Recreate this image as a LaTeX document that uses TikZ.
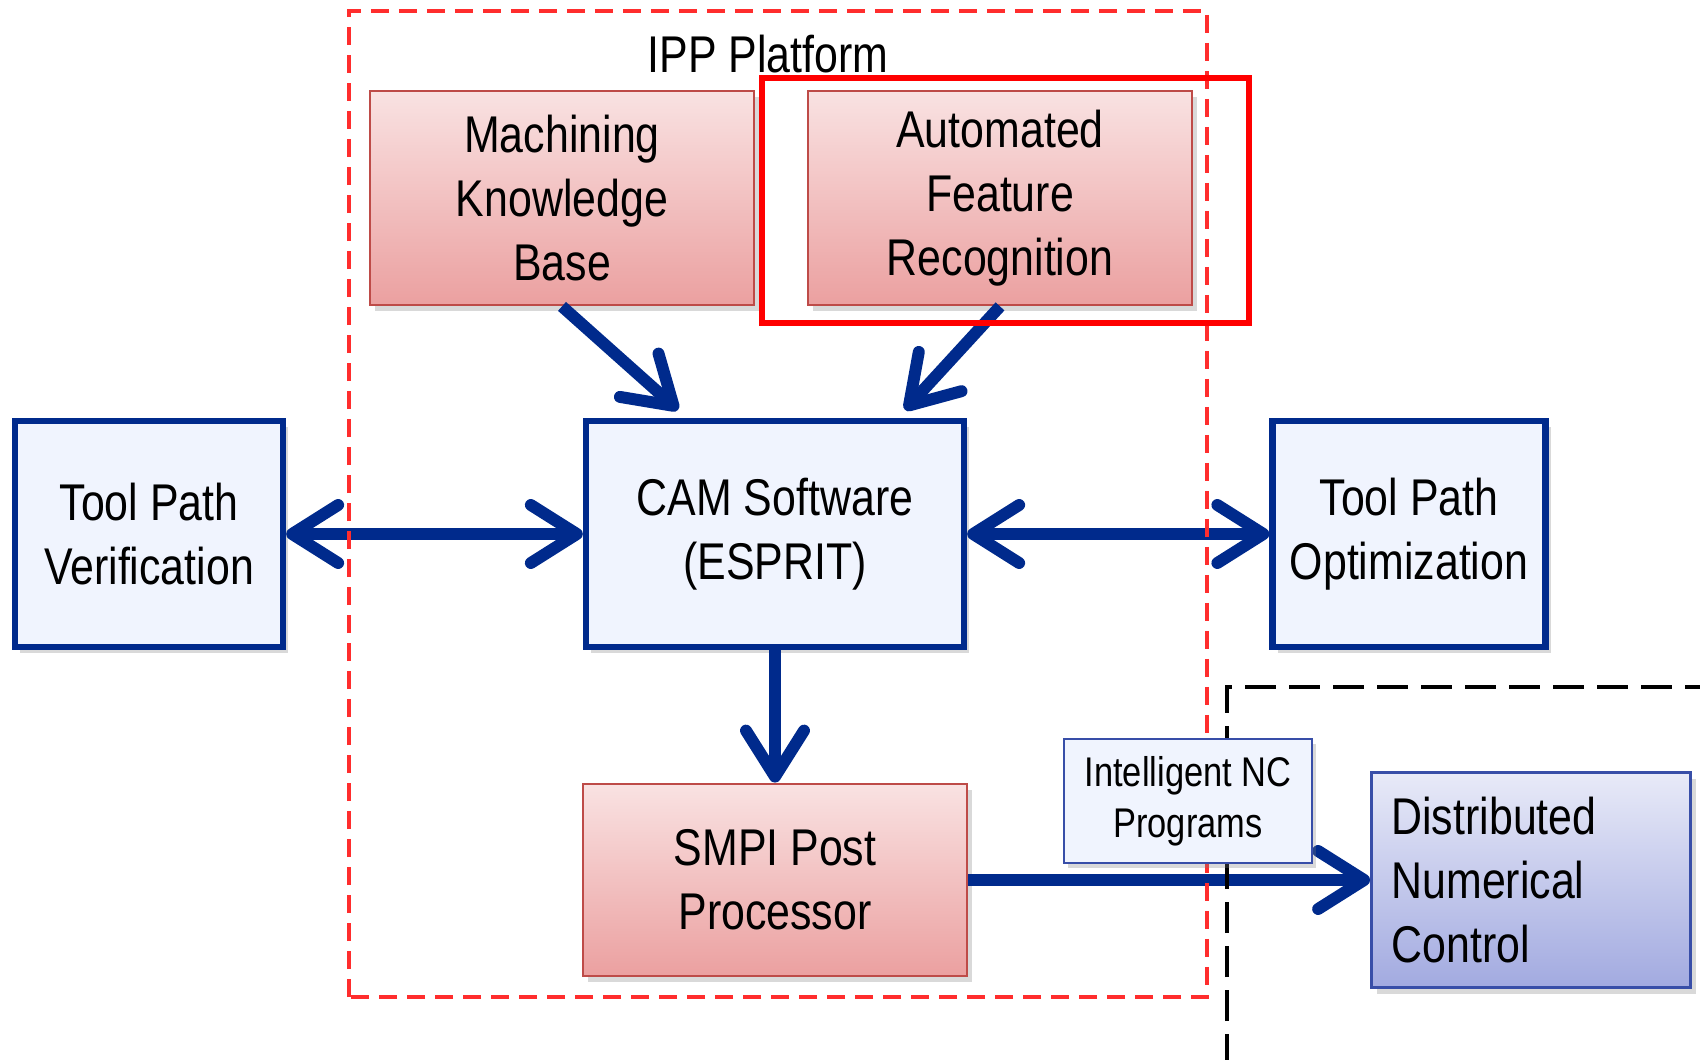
\documentclass[tikz,border=0pt]{standalone}
\usepackage{fontspec}
\setmainfont{Liberation Sans}[FakeStretch=0.83]
\usetikzlibrary{arrows.meta,shadows}

\definecolor{flowblue}{RGB}{0,42,140}
\definecolor{palefill}{RGB}{240,244,254}
\definecolor{redtop}{RGB}{249,226,226}
\definecolor{redbot}{RGB}{235,160,160}
\definecolor{redline}{RGB}{190,75,72}
\definecolor{dnctop}{RGB}{232,234,248}
\definecolor{dncbot}{RGB}{162,170,224}
\definecolor{dncline}{RGB}{56,78,168}
\definecolor{ippred}{RGB}{255,45,45}

\begin{document}
\begin{tikzpicture}[>={Straight Barb[length=4.6mm,width=5.8mm,round]},
font=\fontsize{14.7}{18.2}\selectfont,
redbox/.style={rectangle, draw=redline, line width=0.8pt, top color=redtop, bottom color=redbot, align=center, inner sep=0pt, minimum width=3.84cm, drop shadow={shadow xshift=0.5mm, shadow yshift=-0.6mm, opacity=0.3}},
bluebox/.style={rectangle, draw=flowblue, line width=1.8pt, fill=palefill, align=center, inner sep=0pt, minimum height=2.26cm, drop shadow={shadow xshift=0.5mm, shadow yshift=-0.6mm, opacity=0.3}},
dncbox/.style={rectangle, draw=dncline, line width=0.8pt, top color=dnctop, bottom color=dncbot, align=left, inner xsep=0.2cm, text width=2.79cm, minimum height=2.15cm, drop shadow={shadow xshift=0.5mm, shadow yshift=-0.6mm, opacity=0.3}},
tag/.style={rectangle, draw=dncline, line width=0.8pt, fill=palefill, align=center, inner sep=0pt, minimum width=2.48cm, minimum height=1.24cm, font=\fontsize{11.8}{14.5}\selectfont, drop shadow={shadow xshift=0.4mm, shadow yshift=-0.5mm, opacity=0.3}},
flow/.style={draw=flowblue, line width=3.4pt},
ippframe/.style={draw=ippred, line width=0.95pt, dash pattern=on 0.18cm off 0.1cm},
hilite/.style={draw=red, line width=1.6pt},
dncframe/.style={draw=black, line width=1.1pt, dash pattern=on 0.31cm off 0.13cm}]

\useasboundingbox (0,0) rectangle (17,10.59);
\clip (0,0) rectangle (17,10.59);

\draw (7.68,10.05) node (IPP) {IPP Platform};
\draw (5.62,8.61) node[redbox, minimum height=2.14cm] (MKB) {Machining\\Knowledge\\Base};
\draw (10.00,8.61) node[redbox, minimum height=2.14cm] (AFR) {Automated\\Feature\\Recognition};
\draw (7.75,5.25) node[bluebox, minimum width=3.78cm] (CAM) {CAM Software\\(ESPRIT)};
\draw (1.49,5.25) node[bluebox, minimum width=2.68cm] (TPV) {Tool Path\\Verification};
\draw (14.09,5.25) node[bluebox, minimum width=2.73cm] (TPO) {Tool Path\\Optimization};
\draw (7.75,1.79) node[redbox, minimum height=1.92cm] (SMPI) {SMPI Post\\Processor};
\draw (15.31,1.79) node[dncbox] (DNC) {Distributed\\Numerical\\Control};

\draw[flow,->] (MKB.south) -- ([xshift=-0.97cm,yshift=0.08cm]CAM.north);
\draw[flow,->] (AFR.south) -- ([xshift=1.30cm,yshift=0.08cm]CAM.north);
\draw[flow,<->] (TPV) -- (CAM);
\draw[flow,<->] (CAM) -- (TPO);
\draw[flow,->] (CAM) -- (SMPI);
\draw[flow,->] (SMPI) -- (DNC);

\draw[ippframe] (3.49,0.62) rectangle (12.07,10.48);
\draw[hilite] (7.62,7.36) rectangle (12.49,9.81);
\draw[dncframe] (12.27,-0.5) |- (17.5,3.72);

\draw (11.88,2.58) node[tag] (INC) {Intelligent NC\\Programs};

\end{tikzpicture}
\end{document}
